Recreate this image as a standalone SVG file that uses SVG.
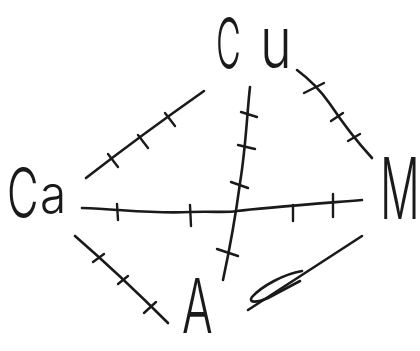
<svg xmlns="http://www.w3.org/2000/svg" width="420" height="351" viewBox="0 0 420 351">
<style>
.lbl{font-family:Inter,"DejaVu Sans",sans-serif;font-weight:300;fill:#1a1a1a}
.ln{fill:none;stroke:#1a1a1a;stroke-width:2.6;stroke-linecap:round;stroke-linejoin:round}
.tk{fill:none;stroke:#1a1a1a;stroke-width:2.4;stroke-linecap:round}
</style>
<rect width="420" height="351" fill="#fff"/>
<g id="connectors">
  <g id="e-ca-cu">
    <path class="ln" d="M86,178 Q140,136 204,91"/>
    <path class="tk" d="M108,154 L118,167 M138,135 L148,148 M165,113 L175,126"/>
  </g>
  <g id="e-cu-m">
    <path class="ln" d="M297,70 Q316,84 330,104 Q350,134 372,158"/>
    <path class="tk" d="M304,93 L324,83 M331,121 L343,113 M348,141 L360,134"/>
  </g>
  <g id="e-cu-a">
    <path class="ln" d="M250,87 C247,113 246,147 240,183 C236,213 229,252 223,280"/>
    <path class="tk" d="M241,112 L257,117 M238,145 L255,149 M231,182 L248,188 M217,249 L238,256"/>
  </g>
  <g id="e-ca-m">
    <path class="ln" d="M82,208 C120,209 150,214 190,212 C215,211 225,213 237,211 C260,208 300,205 362,200"/>
    <path class="tk" d="M117,204 L118,220 M190,205 L191,226 M293,205 L293,221 M333,194 L333,217"/>
  </g>
  <g id="e-ca-a">
    <path class="ln" d="M75,236 Q120,275 168,323"/>
    <path class="tk" d="M93,262 L104,254 M118,284 L128,276 M144,313 L156,302"/>
  </g>
  <g id="e-a-m">
    <path class="ln" d="M248,310 L362,236"/>
    <path class="ln" d="M302,271 C284,274 262,286 252,297 C248,303 256,303 268,298 L300,281" stroke-width="1.8"/>
  </g>
</g>
<g id="node-cu">
  <text class="lbl" font-size="71" transform="translate(216,69) scale(0.48,1)">C</text>
  <text class="lbl" font-size="71" transform="translate(260,68) scale(0.76,1)">u</text>
</g>
<g id="node-ca">
  <text class="lbl" font-size="70" transform="translate(7,218) scale(0.62,1)">C</text>
  <text class="lbl" font-size="52" transform="translate(40,213) scale(0.92,1)">a</text>
</g>
<g id="node-m">
  <text class="lbl" font-size="85" transform="translate(380,219) scale(0.52,1)">M</text>
</g>
<g id="node-a">
  <text class="lbl" font-size="76" transform="translate(182,333) scale(0.6,1)">A</text>
</g>
</svg>
